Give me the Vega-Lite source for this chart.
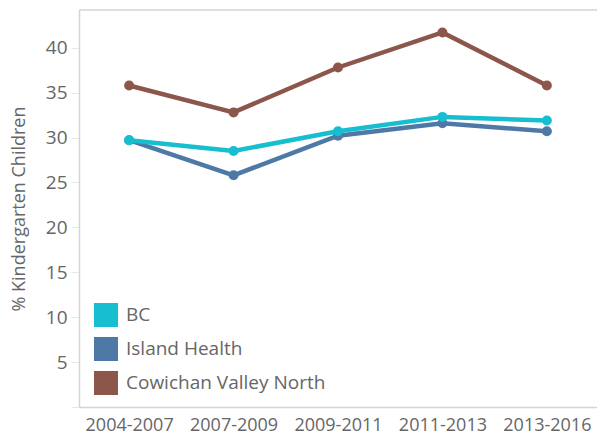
{
  "$schema": "https://vega.github.io/schema/vega-lite/v6.json",
  "width": 518,
  "height": 397,
  "autosize": {"type": "none"},
  "padding": {"left": 79, "top": 10, "right": 0, "bottom": 29},
  "config": {"view": {"stroke": null}, "font": "Open Sans"},
  "data": {
    "values": [
      {"period": "2004-2007", "region": "Cowichan Valley North", "pct": 35.8},
      {"period": "2007-2009", "region": "Cowichan Valley North", "pct": 32.8},
      {"period": "2009-2011", "region": "Cowichan Valley North", "pct": 37.8},
      {"period": "2011-2013", "region": "Cowichan Valley North", "pct": 41.7},
      {"period": "2013-2016", "region": "Cowichan Valley North", "pct": 35.8},
      {"period": "2004-2007", "region": "Island Health", "pct": 29.7},
      {"period": "2007-2009", "region": "Island Health", "pct": 25.8},
      {"period": "2009-2011", "region": "Island Health", "pct": 30.2},
      {"period": "2011-2013", "region": "Island Health", "pct": 31.6},
      {"period": "2013-2016", "region": "Island Health", "pct": 30.7},
      {"period": "2004-2007", "region": "BC", "pct": 29.7},
      {"period": "2007-2009", "region": "BC", "pct": 28.5},
      {"period": "2009-2011", "region": "BC", "pct": 30.7},
      {"period": "2011-2013", "region": "BC", "pct": 32.3},
      {"period": "2013-2016", "region": "BC", "pct": 31.9}
    ]
  },
  "layer": [
    {
      "data": {"values": [{}]},
      "mark": {"type": "rule", "color": "#d4d4d4", "strokeWidth": 1.5},
      "encoding": {"y": {"datum": 44.2}}
    },
    {
      "mark": {"type": "line", "strokeWidth": 4.5, "point": {"filled": true, "size": 100}},
      "encoding": {
        "x": {
          "field": "period",
          "type": "ordinal",
          "scale": {"type": "point", "padding": 0.48},
          "axis": {
            "title": null,
            "labelAngle": 0,
            "ticks": false,
            "domainColor": "#d4d4d4",
            "domainWidth": 1.5,
            "labelFontSize": 18,
            "labelColor": "#666666",
            "labelPadding": 9
          }
        },
        "y": {
          "field": "pct",
          "type": "quantitative",
          "scale": {"domain": [0, 44.2], "nice": false, "zero": true},
          "axis": {
            "title": "% Kindergarten Children",
            "titleFontSize": 18,
            "titleFontWeight": "normal",
            "titleColor": "#666666",
            "titlePadding": 17,
            "values": [0, 5, 10, 15, 20, 25, 30, 35, 40],
            "labelExpr": "datum.value == 0 ? '' : datum.label",
            "grid": false,
            "tickColor": "#e6e6e6",
            "tickSize": 8,
            "labelPadding": 4,
            "labelFontSize": 19,
            "labelColor": "#666666",
            "domainColor": "#d4d4d4",
            "domainWidth": 1.5
          }
        },
        "color": {
          "field": "region",
          "type": "nominal",
          "scale": {
            "domain": ["BC", "Island Health", "Cowichan Valley North"],
            "range": ["#17becf", "#4e79a7", "#8c564b"]
          },
          "legend": {
            "title": null,
            "orient": "none",
            "legendX": 15,
            "legendY": 293,
            "padding": 0,
            "symbolType": "square",
            "symbolSize": 576,
            "symbolStrokeWidth": 0,
            "symbolOpacity": 1,
            "rowPadding": 10,
            "labelOffset": 8,
            "labelFontSize": 19,
            "labelLimit": 400,
            "labelColor": "#666666"
          }
        }
      }
    }
  ]
}
